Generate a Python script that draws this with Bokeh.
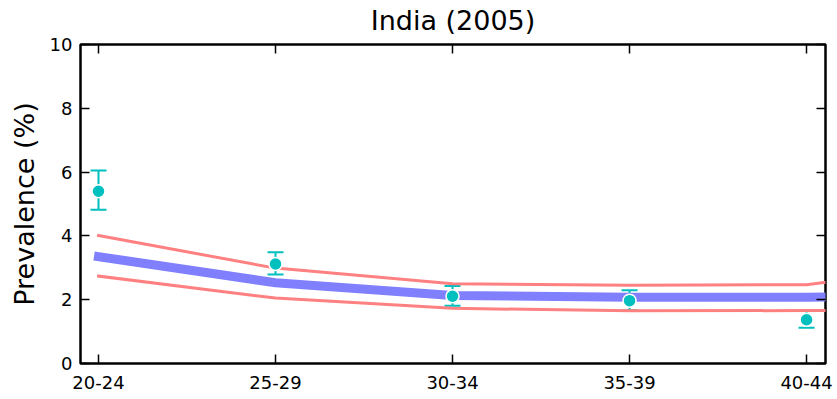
from bokeh.plotting import figure
from bokeh.models import (Range1d, FixedTicker, LinearAxis, Whisker, TeeHead,
                          ColumnDataSource, Title, CustomJSTickFormatter)
from bokeh.embed import file_html
from bokeh.resources import INLINE

# ---------------- data ----------------
age_groups = ["20-24", "25-29", "30-34", "35-39", "40-44", "45-49"]
model_mean = [3.35, 2.53, 2.13, 2.08, 2.08, 2.12]
model_upper = [4.01, 2.99, 2.50, 2.45, 2.47, 3.20]
model_lower = [2.74, 2.05, 1.73, 1.65, 1.66, 1.66]

obs_groups = ["20-24", "25-29", "30-34", "35-39", "40-44"]
obs_value = [5.40, 3.12, 2.11, 1.97, 1.37]
obs_lower = [4.82, 2.79, 1.81, 1.67, 1.12]
obs_upper = [6.05, 3.49, 2.43, 2.30, 1.67]

y_ticks = [0, 2, 4, 6, 8, 10]

FONT = "DejaVu Sans"
CYAN = "#00BFBF"
RED = "#FF8080"
BLUE = "#8080FF"
HIDDEN_TOP = 40   # canvas rows kept above the visible window

x_model = [age_groups.index(g) for g in age_groups]
x_obs = [age_groups.index(g) for g in obs_groups]

p = figure(width=835, height=397 + HIDDEN_TOP,
           x_range=Range1d(-0.1017, 4.107), y_range=Range1d(0, 10),
           output_backend="svg", toolbar_location=None,
           min_border_left=80, min_border_right=10,
           min_border_top=44 + HIDDEN_TOP, min_border_bottom=34)
p.styles = {"margin-top": f"-{HIDDEN_TOP}px"}
p.title_location = None

p.xgrid.visible = False
p.ygrid.visible = False
p.outline_line_color = "black"
p.outline_line_width = 2.5
p.outline_line_alpha = 1.0
p.background_fill_color = "white"
p.border_fill_color = "white"


def style_axis(ax, show_labels=True):
    ax.axis_line_color = None
    ax.major_tick_in = 9
    ax.major_tick_out = 0
    ax.major_tick_line_color = "black"
    ax.major_tick_line_width = 1.5
    ax.minor_tick_line_color = None
    ax.major_label_text_font = FONT
    ax.major_label_text_color = "black"
    ax.major_label_text_font_size = "18px"
    if show_labels:
        ax.major_label_standoff = 8
    else:
        ax.formatter = CustomJSTickFormatter(code="return ''")
        ax.major_label_standoff = 0


# bottom x axis
xax = p.xaxis[0]
xax.ticker = FixedTicker(ticks=x_obs)
xax.major_label_overrides = {i: g for i, g in zip(x_obs, obs_groups)}
style_axis(xax)
xax.major_label_standoff = 12

# left y axis
yax = p.yaxis[0]
yax.ticker = FixedTicker(ticks=y_ticks)
style_axis(yax)
yax.axis_label = "Prevalence (%)"
yax.axis_label_text_font = FONT
yax.axis_label_text_font_size = "27px"
yax.axis_label_text_font_style = "normal"
yax.axis_label_text_color = "black"
yax.axis_label_standoff = 7

# right tick-only axis
right_ax = LinearAxis(ticker=FixedTicker(ticks=y_ticks))
style_axis(right_ax, show_labels=False)
p.add_layout(right_ax, "right")

# top: tick-only axis at the frame, then the title, then the (cut-off) labels
top_ticks = LinearAxis(ticker=FixedTicker(ticks=x_obs))
style_axis(top_ticks, show_labels=False)
p.add_layout(top_ticks, "above")

title = Title(text="India (2005)", align="center", text_font=FONT,
              text_font_size="27px", text_font_style="normal",
              text_color="black", standoff=18)
p.add_layout(title, "above")

top_labels = LinearAxis(ticker=FixedTicker(ticks=x_obs))
top_labels.major_label_overrides = {i: g for i, g in zip(x_obs, obs_groups)}
top_labels.axis_line_color = None
top_labels.major_tick_line_color = None
top_labels.major_tick_in = 0
top_labels.major_tick_out = 0
top_labels.minor_tick_line_color = None
top_labels.major_label_text_font = FONT
top_labels.major_label_text_font_size = "18px"
top_labels.major_label_text_color = "black"
top_labels.major_label_standoff = -6
p.add_layout(top_labels, "above")

# model band lines
p.line(x_model, model_upper, line_color=RED, line_width=3, line_cap="square")
p.line(x_model, model_lower, line_color=RED, line_width=3, line_cap="square")
p.line(x_model, model_mean, line_color=BLUE, line_width=9, line_cap="square")

# observations with error bars
src = ColumnDataSource(dict(x=x_obs, y=obs_value, lower=obs_lower, upper=obs_upper))
p.add_layout(Whisker(source=src, base="x", upper="upper", lower="lower",
                     line_color=CYAN, line_width=2,
                     upper_head=TeeHead(size=16, line_color=CYAN, line_width=2),
                     lower_head=TeeHead(size=16, line_color=CYAN, line_width=2)))
p.scatter("x", "y", source=src, size=13, fill_color=CYAN,
          line_color="white", line_width=1.5)

open("out.html", "w").write(file_html(p, INLINE))
